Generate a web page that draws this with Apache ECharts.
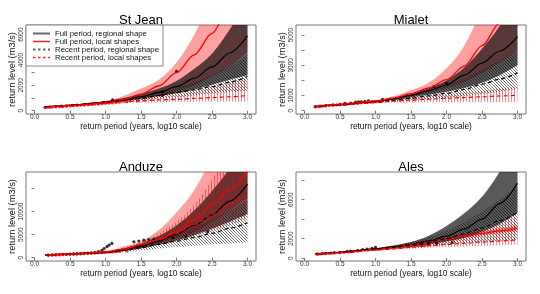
<!DOCTYPE html>
<html><head><meta charset="utf-8">
<script src="https://cdn.jsdelivr.net/npm/echarts/dist/echarts.min.js"></script>
<style>html,body{margin:0;padding:0;background:#fff}#c{width:540px;height:294px}</style>
</head><body><div id="c"></div>
<script>
// ---------- data (x = log10 return period) ----------
const X = [0.15, 0.5, 1.0, 1.25, 1.5, 1.75, 2.0, 2.25, 2.5, 2.75, 3.0];
const xTicks = [0, 0.5, 1.0, 1.5, 2.0, 2.5, 3.0];

// St Jean
const sjFullReg   = [280, 430, 680, 870, 1100, 1450, 1900, 2550, 3450, 4550, 5900];
const sjFullRegLo = [270, 410, 620, 760, 950, 1150, 1350, 1650, 2050, 2450, 2800];
const sjFullRegHi = [290, 450, 750, 1000, 1300, 1750, 2350, 3300, 4500, 6400, 8700];
const sjFullLoc   = [270, 420, 660, 900, 1300, 1950, 3000, 4400, 6100, 8200, 10800];
const sjFullLocLo = [260, 400, 600, 720, 870, 1100, 1500, 2000, 2700, 3500, 4650];
const sjFullLocHi = [290, 450, 760, 1150, 1750, 2450, 3800, 6000, 9000, 13000, 18000];
const sjRecReg    = [270, 420, 640, 800, 980, 1200, 1450, 1650, 1900, 2250, 2700];
const sjRecRegLo  = [260, 400, 580, 700, 820, 950, 1050, 1200, 1350, 1450, 1600];
const sjRecRegHi  = [290, 450, 720, 920, 1150, 1450, 1800, 2250, 2800, 3500, 4400];
const sjRecLoc    = [260, 410, 600, 700, 780, 850, 900, 970, 1030, 1100, 1200];
const sjRecLocLo  = [250, 380, 540, 600, 640, 670, 700, 710, 720, 730, 700];
const sjRecLocHi  = [280, 440, 680, 820, 950, 1100, 1300, 1550, 1850, 2200, 2600];
const sjPtsFull = [[0.15,270],[0.22,300],[0.3,330],[0.38,360],[0.45,390],[0.53,420],[0.6,450],[0.7,480],[0.76,500],[0.82,540],[0.9,560],[0.97,640],[1.03,660],[1.1,850],[1.8,1200],[1.8,1500],[2.0,3100]];
const sjPtsRec  = [[0.16,260],[0.2,275],[0.25,290],[0.3,305],[0.35,320],[0.4,335],[0.45,355],[0.5,375],[0.55,395],[0.6,410],[0.65,430],[0.7,450],[0.75,470],[0.8,490],[0.85,510],[0.9,530],[0.95,555],[1.0,580],[1.05,600],[1.1,625],[1.15,650],[1.2,680],[1.3,710],[1.45,760]];

// Mialet
const miFullReg   = [270, 400, 600, 780, 1030, 1330, 1700, 2350, 3150, 3950, 4900];
const miFullRegLo = [260, 380, 560, 700, 880, 1060, 1250, 1500, 1850, 2350, 3000];
const miFullRegHi = [280, 420, 640, 830, 1100, 1480, 2000, 2850, 4100, 5600, 7500];
const miFullLoc   = [280, 420, 640, 830, 1120, 1500, 2050, 2950, 4300, 5800, 7800];
const miFullLocLo = [270, 400, 600, 760, 950, 1200, 1500, 1900, 2500, 3200, 4000];
const miFullLocHi = [300, 450, 700, 950, 1350, 1850, 2800, 4300, 6800, 10000, 14000];
const miRecReg    = [260, 380, 560, 690, 830, 980, 1150, 1400, 1750, 2100, 2500];
const miRecRegLo  = [250, 360, 510, 600, 700, 780, 850, 950, 1100, 1250, 1450];
const miRecRegHi  = [280, 410, 620, 790, 1000, 1250, 1600, 2100, 2700, 3300, 4000];
const miRecLoc    = [260, 380, 540, 630, 700, 760, 820, 870, 920, 970, 1030];
const miRecLocLo  = [250, 350, 480, 520, 540, 550, 560, 560, 560, 560, 550];
const miRecLocHi  = [280, 420, 620, 750, 870, 980, 1080, 1200, 1320, 1450, 1600];
const miPtsFull = [[0.15,265],[0.22,300],[0.3,340],[0.4,380],[0.5,420],[0.57,490],[0.65,500],[0.72,560],[0.76,580],[0.8,590],[0.85,610],[0.9,650],[1.1,750],[1.82,1590],[2.0,1810]];
const miPtsRec  = [[0.16,260],[0.2,280],[0.25,300],[0.3,320],[0.35,340],[0.4,360],[0.45,380],[0.5,400],[0.55,420],[0.6,440],[0.65,460],[0.7,480],[0.75,500],[0.8,520],[0.85,540],[0.9,560],[0.95,580],[1.0,600],[1.05,620],[1.1,650]];

// Anduze
const anFullReg   = [550, 800, 1150, 1700, 2500, 3600, 5100, 7000, 9300, 12300, 16000];
const anFullRegLo = [500, 720, 1000, 1400, 2000, 2800, 3700, 4900, 6300, 7800, 9500];
const anFullRegHi = [600, 880, 1300, 2000, 3100, 4700, 7000, 10300, 14500, 19500, 26000];
const anFullLoc   = [550, 800, 1200, 1800, 2800, 4000, 5700, 8300, 11500, 14800, 18700];
const anFullLocLo = [500, 720, 1000, 1500, 2200, 3100, 4200, 5600, 7800, 10300, 13000];
const anFullLocHi = [620, 900, 1500, 2400, 3500, 6000, 9800, 14700, 22000, 32000, 45000];
const anRecReg    = [520, 760, 1100, 1600, 2200, 2900, 3600, 4400, 5300, 6400, 7600];
const anRecRegLo  = [480, 700, 950, 1250, 1600, 1950, 2300, 2600, 2900, 3100, 3300];
const anRecRegHi  = [560, 850, 1300, 1900, 2800, 3800, 5000, 6500, 8200, 10200, 12500];
const anRecLoc    = [530, 780, 1200, 1900, 2900, 4000, 5300, 7200, 9300, 11600, 14000];
const anRecLocLo  = [500, 720, 1050, 1500, 2100, 2900, 3700, 4700, 5800, 7000, 8500];
const anRecLocHi  = [560, 840, 1350, 2200, 3400, 5200, 7800, 11500, 17000, 24000, 33000];
const anPtsFull = [[0.19,580],[0.25,620],[0.3,650],[0.35,680],[0.4,720],[0.45,750],[0.5,790],[0.55,830],[0.6,870],[0.65,900],[0.7,960],[0.75,1000],[0.8,1050],[0.85,1150],[0.9,1300],[0.95,1600],[0.98,2000],[1.02,2400],[1.05,2750],[1.09,3100],[1.4,3450],[1.47,3600],[1.54,3800],[1.61,3950],[1.68,4050],[1.95,4350],[2.13,4700],[2.44,5650]];
const anPtsRec  = [[0.2,520],[0.25,560],[0.3,590],[0.35,620],[0.4,650],[0.45,690],[0.5,720],[0.55,760],[0.6,800],[0.65,840],[0.7,880],[0.75,920],[0.8,960],[0.85,1000],[0.9,1050],[0.95,1100],[1.0,1150],[1.05,1200],[1.1,1250],[1.15,1300],[1.2,1350],[1.3,1450]];

// Ales
const alFullReg   = [400, 600, 950, 1150, 1400, 1780, 2250, 3000, 4000, 5600, 7700];
const alFullRegLo = [380, 560, 880, 1000, 1150, 1400, 1700, 2100, 2700, 3500, 4600];
const alFullRegHi = [420, 640, 1020, 1300, 1650, 2300, 3300, 4600, 6300, 8900, 12500];
const alFullLoc   = [380, 560, 860, 1080, 1350, 1650, 1950, 2250, 2550, 2800, 3080];
const alFullLocLo = [370, 550, 840, 1040, 1290, 1560, 1820, 2080, 2330, 2550, 2780];
const alFullLocHi = [390, 570, 880, 1120, 1410, 1740, 2080, 2420, 2770, 3050, 3380];
const alRecReg    = [390, 580, 900, 1100, 1350, 1650, 2000, 2500, 3100, 3850, 4700];
const alRecRegLo  = [370, 540, 820, 950, 1100, 1250, 1400, 1550, 1650, 1750, 1850];
const alRecRegHi  = [420, 630, 1000, 1280, 1650, 2150, 2800, 3700, 4800, 6000, 7300];
const alRecLoc    = [370, 540, 820, 950, 1100, 1250, 1400, 1520, 1640, 1760, 1860];
const alRecLocLo  = [350, 510, 760, 860, 960, 1050, 1130, 1200, 1260, 1320, 1380];
const alRecLocHi  = [400, 590, 900, 1080, 1300, 1600, 1950, 2400, 2950, 3600, 4400];
const alPtsFull = [[0.18,420],[0.25,450],[0.3,480],[0.38,520],[0.42,560],[0.5,600],[0.6,680],[0.65,720],[0.75,800],[0.82,870],[0.88,920],[0.95,1000],[1.0,1100],[1.44,1340],[1.55,1380],[1.65,1420],[1.75,1460],[1.86,1510],[2.08,1610]];
const alPtsRec  = [[0.18,400],[0.22,420],[0.3,450],[0.35,470],[0.42,520],[0.5,560],[0.55,600],[0.62,640],[0.7,700],[0.75,740],[0.8,780],[0.9,840],[1.0,900],[1.1,980],[1.2,1050],[1.3,1120],[1.4,1180],[1.5,1230],[1.6,1280],[1.7,1330]];

// axes
const panelNames = ['St Jean', 'Mialet', 'Anduze', 'Ales'];
const yMin = [-260, -220, -720, -300];
const yMax = [6760, 5670, 18620, 8850];
const yTicks = [[0,1000,2000,3000,4000,5000,6000],[0,1000,2000,3000,4000,5000],[0,5000,10000,15000],[0,2000,4000,6000,8000]];
const yLabels = [[0,2000,4000,6000],[0,1000,3000,5000],[0,5000,10000],[0,2000,6000]];
const legendNames = ['Full period, regional shape','Full period, local shapes','Recent period, regional shape','Recent period, local shapes'];

// ---------- build ----------
const panels = [
  [sjFullReg,sjFullRegLo,sjFullRegHi,sjFullLoc,sjFullLocLo,sjFullLocHi,sjRecReg,sjRecRegLo,sjRecRegHi,sjRecLoc,sjRecLocLo,sjRecLocHi,sjPtsFull,sjPtsRec],
  [miFullReg,miFullRegLo,miFullRegHi,miFullLoc,miFullLocLo,miFullLocHi,miRecReg,miRecRegLo,miRecRegHi,miRecLoc,miRecLocLo,miRecLocHi,miPtsFull,miPtsRec],
  [anFullReg,anFullRegLo,anFullRegHi,anFullLoc,anFullLocLo,anFullLocHi,anRecReg,anRecRegLo,anRecRegHi,anRecLoc,anRecLocLo,anRecLocHi,anPtsFull,anPtsRec],
  [alFullReg,alFullRegLo,alFullRegHi,alFullLoc,alFullLocLo,alFullLocHi,alRecReg,alRecRegLo,alRecRegHi,alRecLoc,alRecLocLo,alRecLocHi,alPtsFull,alPtsRec]
];
const FONT = 'Liberation Sans, Arial, Helvetica, sans-serif';
const gridPos = [[26,25],[296,25],[26,172],[296,172]];

function hatch(color, kind) {
  const s = 3, c = document.createElement('canvas');
  c.width = s; c.height = s;
  const g = c.getContext('2d');
  g.strokeStyle = color; g.lineWidth = 0.6; g.beginPath();
  if (kind === 'diag') {
    g.moveTo(-1,-1); g.lineTo(s+1,s+1);
    g.moveTo(-1,s-1); g.lineTo(1,s+1);
    g.moveTo(s-1,-1); g.lineTo(s+1,1);
  } else {
    g.moveTo(1.5,0); g.lineTo(1.5,s);
  }
  g.stroke();
  return c;
}
const blackHatch = {image: hatch('rgba(0,0,0,0.9)','diag'), repeat:'repeat'};
const redHatch = {image: hatch('rgba(255,0,0,0.8)','vert'), repeat:'repeat'};

function curve(pts, start) {
  const n = pts.length;
  let d = (start ? 'M' : 'L') + pts[0][0].toFixed(2) + ' ' + pts[0][1].toFixed(2);
  for (let i = 0; i < n - 1; i++) {
    const pm = pts[Math.max(i-1,0)], p0 = pts[i], p1 = pts[i+1], p2 = pts[Math.min(i+2,n-1)];
    const c1 = [p0[0] + (p1[0]-pm[0])/6, p0[1] + (p1[1]-pm[1])/6];
    const c2 = [p1[0] - (p2[0]-p0[0])/6, p1[1] - (p2[1]-p0[1])/6];
    d += ' C' + c1[0].toFixed(2) + ' ' + c1[1].toFixed(2) + ' ' + c2[0].toFixed(2) + ' ' + c2[1].toFixed(2) + ' ' + p1[0].toFixed(2) + ' ' + p1[1].toFixed(2);
  }
  return d;
}

function band(p, lo, hi, fill) {
  return {
    type: 'custom', xAxisIndex: p, yAxisIndex: p, silent: true, clip: true,
    data: X.map((x, k) => [x, lo[k], hi[k]]),
    encode: {x: 0, y: [1, 2]},
    renderItem: function (params, api) {
      if (params.dataIndexInside !== 0) return null;
      const n = params.dataInsideLength;
      const up = [], dn = [];
      for (let k = 0; k < n; k++) {
        const x = api.value(0, k);
        up.push(api.coord([x, api.value(2, k)]));
        dn.push(api.coord([x, api.value(1, k)]));
      }
      dn.reverse();
      const cs = params.coordSys;
      return {
        type: 'group',
        clipPath: {type: 'rect', shape: {x: cs.x, y: cs.y, width: cs.width, height: cs.height}},
        children: [{type: 'path', shape: {pathData: curve(up, true) + ' ' + curve(dn, false) + ' Z'}, style: {fill: fill, stroke: null}}]
      };
    }
  };
}
function line(p, arr, name, color, dashed, width) {
  return {
    type: 'line', name: name, xAxisIndex: p, yAxisIndex: p, silent: true,
    data: X.map((x, k) => [x, arr[k]]),
    symbol: 'none', smooth: 0.3, smoothMonotone: 'x',
    lineStyle: {color: color, width: width, type: dashed ? [4, 3] : 'solid'}
  };
}
function pts(p, arr, color) {
  return {type: 'scatter', xAxisIndex: p, yAxisIndex: p, silent: true, data: arr,
    symbol: 'circle', symbolSize: 3.2, itemStyle: {color: color}};
}

const grid = [], xAxis = [], yAxis = [], series = [], title = [];
panels.forEach((d, p) => {
  const [fr, frl, frh, fl, fll, flh, rr, rrl, rrh, rl, rll, rlh, pf, pr] = d;
  grid.push({left: gridPos[p][0], top: gridPos[p][1], width: 230, height: 89, show: true,
    borderColor: '#777', borderWidth: 1, backgroundColor: 'transparent'});
  title.push({text: panelNames[p], left: gridPos[p][0] + 115, top: gridPos[p][1] - 11, textAlign: 'center', padding: 0,
    textStyle: {fontFamily: FONT, fontSize: 13, fontWeight: 'normal', color: '#000'}});
  xAxis.push({gridIndex: p, type: 'value', min: -0.12, max: 3.12,
    name: 'return period (years, log10 scale)', nameLocation: 'middle', nameGap: 8.5,
    nameTextStyle: {fontFamily: FONT, fontSize: 8.3, color: '#111'},
    axisLine: {show: false}, splitLine: {show: false},
    axisTick: {show: true, customValues: xTicks, length: 3, lineStyle: {color: '#555', width: 0.8}},
    axisLabel: {customValues: xTicks, formatter: v => Number(v).toFixed(1), margin: 0,
      fontFamily: FONT, fontSize: 6.5, color: '#333'}});
  yAxis.push({gridIndex: p, type: 'value', min: yMin[p], max: yMax[p],
    name: 'return level (m3/s)', nameLocation: 'middle', nameGap: 8.5,
    nameTextStyle: {fontFamily: FONT, fontSize: 9.3, color: '#111'},
    axisLine: {show: false}, splitLine: {show: false},
    axisTick: {show: true, customValues: yTicks[p], length: 3, lineStyle: {color: '#555', width: 0.8}},
    axisLabel: {customValues: yLabels[p], rotate: 90, margin: 1, formatter: v => String(Math.round(v)),
      fontFamily: FONT, fontSize: 6.5, color: '#333'}});
  series.push(band(p, fll, flh, 'rgba(255,0,0,0.37)'));
  series.push(band(p, frl, frh, 'rgba(0,0,0,0.65)'));
  series.push(band(p, rll, rlh, redHatch));
  series.push(band(p, rrl, rrh, blackHatch));
  series.push(line(p, fr, legendNames[0], '#000', false, 1.2));
  series.push(line(p, fl, legendNames[1], '#ff0000', false, 1.3));
  series.push(line(p, rr, legendNames[2], '#000', true, 1.2));
  series.push(line(p, rl, legendNames[3], '#ff0000', true, 1.2));
  series.push(pts(p, pf, '#000'));
  series.push(pts(p, pr, '#ff0000'));
});

const chart = echarts.init(document.getElementById('c'), null, {renderer: 'canvas'});
chart.setOption({
  animation: false,
  backgroundColor: '#fff',
  title: title, grid: grid, xAxis: xAxis, yAxis: yAxis, series: series,
  legend: {
    left: 26, top: 25, orient: 'vertical', selectedMode: false,
    padding: [4.5, 4, 4.5, 6], itemWidth: 17, itemHeight: 9.7, itemGap: 0,
    borderColor: '#888', borderWidth: 1, backgroundColor: '#fff',
    itemStyle: {opacity: 0},
    textStyle: {fontFamily: FONT, fontSize: 7.8, color: '#111'},
    data: [
      {name: legendNames[0], lineStyle: {color: '#666', width: 2, type: 'solid'}},
      {name: legendNames[1], lineStyle: {color: '#ff2020', width: 1.5, type: 'solid'}},
      {name: legendNames[2], lineStyle: {color: '#666', width: 2, type: [2.5, 2.5]}},
      {name: legendNames[3], lineStyle: {color: '#ff2020', width: 1.5, type: [2.5, 2.5]}}
    ]
  }
});
</script></body></html>
